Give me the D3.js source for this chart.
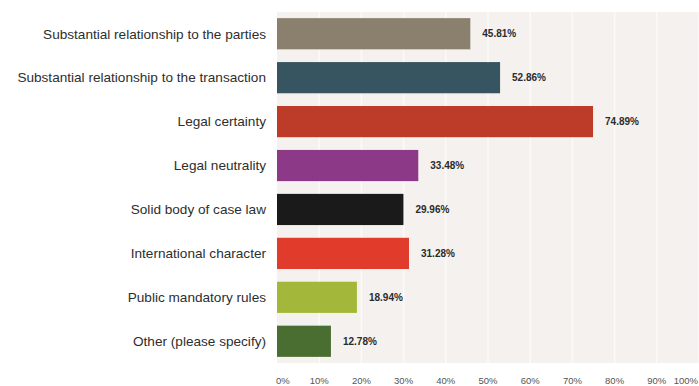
<!DOCTYPE html>
<html>
<head>
<meta charset="utf-8">
<script src="https://cdn.jsdelivr.net/npm/d3@7"></script>
<style>
  body { margin: 0; background: #fff; }
  text { font-family: "Liberation Sans", Arial, sans-serif; }
</style>
</head>
<body>
<div id="chart"></div>
<script>
// data
var categories = [
  "Substantial relationship to the parties",
  "Substantial relationship to the transaction",
  "Legal certainty",
  "Legal neutrality",
  "Solid body of case law",
  "International character",
  "Public mandatory rules",
  "Other (please specify)"
];
var values = [45.81, 52.86, 74.89, 33.48, 29.96, 31.28, 18.94, 12.78];
var barColors = ["#8a806d", "#365561", "#bd3b29", "#8c3a87", "#1b1a1a", "#e03b2b", "#a3b83a", "#4a6d31"];
var tickValues = [0, 10, 20, 30, 40, 50, 60, 70, 80, 90, 100];

var width = 699, height = 386;
var plot = {left: 277, right: 699, top: 12, bottom: 363};

var svg = d3.select("#chart")
  .append("svg")
    .attr("width", width)
    .attr("height", height);

var x_scale = d3.scaleLinear()
  .domain([0, 100])
  .range([plot.left, plot.right]);

var y_scale = d3.scaleBand()
  .domain(categories)
  .range([plot.top, plot.bottom])
  .paddingInner(0.29)
  .paddingOuter(0.14);

// plot background
svg.append("rect")
  .attr("x", plot.left)
  .attr("y", plot.top)
  .attr("width", plot.right - plot.left)
  .attr("height", plot.bottom - plot.top)
  .attr("fill", "#f4f1ee");

// faint vertical gridlines
svg.append("g")
  .selectAll("line")
  .data(tickValues.slice(1))
  .enter().append("line")
    .attr("x1", function(d) { return x_scale(d); })
    .attr("x2", function(d) { return x_scale(d); })
    .attr("y1", plot.top)
    .attr("y2", plot.bottom)
    .attr("stroke", "#fbfaf8")
    .attr("stroke-width", 1.5);

// bars
svg.append("g")
  .selectAll("rect")
  .data(values)
  .enter().append("rect")
    .attr("x", x_scale(0))
    .attr("y", function(d, i) { return y_scale(categories[i]); })
    .attr("width", function(d) { return x_scale(d) - x_scale(0); })
    .attr("height", y_scale.bandwidth())
    .attr("fill", function(d, i) { return barColors[i]; });

// value labels
svg.append("g")
  .selectAll("text")
  .data(values)
  .enter().append("text")
    .attr("x", function(d) { return x_scale(d) + 12; })
    .attr("y", function(d, i) { return y_scale(categories[i]) + y_scale.bandwidth() / 2; })
    .attr("dy", "0.35em")
    .attr("font-size", "10px")
    .attr("font-weight", "bold")
    .attr("fill", "#2b2b2b")
    .text(function(d) { return d.toFixed(2) + "%"; });

// category labels
svg.append("g")
  .selectAll("text")
  .data(categories)
  .enter().append("text")
    .attr("x", 266)
    .attr("y", function(d) { return y_scale(d) + y_scale.bandwidth() / 2; })
    .attr("dy", "0.35em")
    .attr("text-anchor", "end")
    .attr("font-size", "13.6px")
    .attr("fill", "#2e2e2e")
    .text(function(d) { return d; });

// x axis tick labels
svg.append("g")
  .selectAll("text")
  .data(tickValues)
  .enter().append("text")
    .attr("x", function(d) {
      if (d === 0) return x_scale(d) - 1;
      if (d === 100) return x_scale(d) - 1;
      return x_scale(d);
    })
    .attr("y", 384)
    .attr("text-anchor", function(d) {
      if (d === 0) return "start";
      if (d === 100) return "end";
      return "middle";
    })
    .attr("font-size", "9.5px")
    .attr("fill", "#555")
    .text(function(d) { return d + "%"; });
</script>
</body>
</html>
